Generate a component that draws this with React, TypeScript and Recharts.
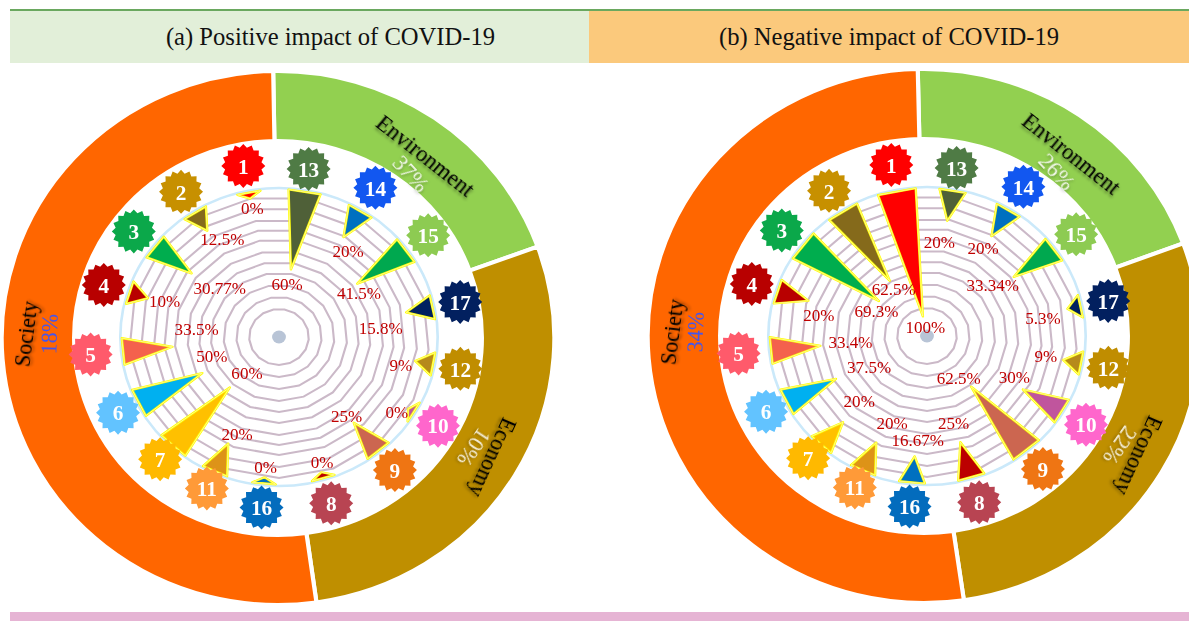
import {
  Pie,
  PieChart,
  PolarAngleAxis,
  PolarGrid,
  PolarRadiusAxis,
  Radar,
  RadarChart,
} from "recharts";

const SERIF = "'Liberation Serif', serif";

// goals clockwise round the ring, starting just left of twelve o'clock
const GOALS = ["1", "13", "14", "15", "17", "12", "10", "9", "8", "16", "11", "7", "6", "5", "4", "3", "2"];
const POSITIVE = [0, 60, 20, 41.5, 15.8, 9, 0, 25, 0, 0, 20, 60, 50, 33.5, 10, 30.77, 12.5];
const NEGATIVE = [100, 20, 20, 33.34, 5.3, 9, 30, 62.5, 25, 16.67, 20, 20, 37.5, 33.4, 20, 69.3, 62.5];

const BADGE_COLORS = [
  "#FF0000", "#4F7B45", "#1257F0", "#8DCB52", "#02205F", "#C08D00", "#FF66CC", "#EF7513", "#B84452",
  "#036CBD", "#FF9A38", "#FFB900", "#62C3FF", "#FF5A6B", "#B80000", "#0BA84A", "#C79000",
];
const SPIKE_COLORS = [
  "#FF0000", "#4F6038", "#0070C0", "#00A84F", "#002060", "#B68A1C", "#C0559D", "#CC6650", "#BC0000",
  "#0070C0", "#DD9318", "#FFC000", "#00B0F0", "#F4614D", "#B80000", "#00AD4E", "#856A1B",
];

const DIMENSIONS = ["Environment", "Economy", "Society"];
const DIMENSION_SPANS = [71, 102, 187];
const POSITIVE_SHARES = ["37%", "10%", "18%"];
const NEGATIVE_SHARES = ["26%", "22%", "34%"];
const DIMENSION_COLORS = ["#92D050", "#BF8F00", "#FF6600"];
const SHARE_COLORS = ["#F2F8EA", "#F6EFD8", "#4455EE"];

// where the ring captions sit: clock angle, radius of name and of share, text rotation
const CAPTION_LAYOUT = [
  { angle: 38, nameR: 231, shareR: 208, nameRot: 39, shareRot: 48 },
  { angle: 120, nameR: 239, shareR: 218, nameRot: 114, shareRot: 124 },
  { angle: 271, nameR: 244, shareR: 221, nameRot: -83, shareRot: -88 },
];

// the badges and labels were placed by hand in the original, so they drift off the even spacing
const BADGE_NUDGE = [
  [-2, -2], [-4, 1], [0, -3], [3, 2], [5, 12], [-1, 16], [-5, 12], [-7.5, 6], [-14, 6],
  [-17.5, -1.5], [-6, -9], [4.5, -5], [3, -1], [-6, 1.5], [1, -5], [1, -2], [-1.5, 1],
];
const POSITIVE_LABEL_NUDGE = [
  [0, 0], [-2, 4], [13, 2], [23, -5], [4, 11], [3, 8], [3, 12], [4, 7], [4, 1],
  [0, 0], [3, 4], [5, -1], [-9, -8], [-6, -14], [-4, -3], [5, -2], [4, -7],
];
const NEGATIVE_LABEL_NUDGE = [
  [0, 0], [-6, 11], [0, 0], [3, -8], [1, 5], [0, 0], [9, -2], [2, 9], [-3, -7],
  [2, -4], [10, -6], [4, -8], [8, 1], [0, 0], [-10, 9], [-23, -4], [-7, -8],
];

const GRID_RADII = [28, 40, 52, 64, 75, 86, 98, 108, 118, 130, 141];

const SIZE = 600;
const MID = SIZE / 2;
const RING_STRETCH = 1.035;
const WHEEL_STRETCH = 1.065;
const BADGE_R = 172;
const BASE_R = 147;
const RAD = Math.PI / 180;
const NO_MARGIN = { top: 0, right: 0, bottom: 0, left: 0 };

// badge centre relative to the wheel centre, from the direction the angle scale gives
function badgeOffset(i: number, ux: number, uy: number) {
  return [ux * BADGE_R + BADGE_NUDGE[i][0] / WHEEL_STRETCH, uy * BADGE_R + BADGE_NUDGE[i][1]];
}

function Badge(props: any) {
  const i = GOALS.indexOf(String(props.payload.value));
  const dx = props.x - MID;
  const dy = props.y - MID;
  const len = Math.hypot(dx, dy);
  const [ox, oy] = badgeOffset(i, dx / len, dy / len);
  const bx = MID + ox;
  const by = MID + oy;
  const pts: string[] = [];
  for (let k = 0; k < 32; k++) {
    const r = k % 2 === 0 ? 22 : 18.5;
    const a = (k * 11.25 - 90) * RAD;
    pts.push(`${bx + (r * Math.cos(a)) / WHEEL_STRETCH},${by + r * Math.sin(a)}`);
  }
  return (
    <g>
      <polygon points={pts.join(" ")} fill={BADGE_COLORS[i]} />
      <text x={bx} y={by + 1} fill="#fff" fontFamily={SERIF} fontSize={20} fontWeight="bold" textAnchor="middle" dominantBaseline="central">
        {props.payload.value}
      </text>
    </g>
  );
}

function spikeShape(labelNudge: number[][]) {
  return (props: any) => {
    const points = props.points ?? [];
    return (
      <g>
        <circle cx={MID} cy={MID} r={6.5} fill="#B8C4D6" />
        {points.map((p: any, i: number) => {
          const value = p.payload.value;
          const r = p.radius;
          const sin = Math.sin((90 - p.angle) * RAD);
          const cos = Math.cos((90 - p.angle) * RAD);
          // the spike follows its badge, so it shares the badge's drift
          const [ox, oy] = badgeOffset(i, sin, -cos);
          const len = Math.hypot(ox, oy);
          const ux = ox / len;
          const uy = oy / len;
          const tx = MID + ux * r;
          const ty = MID + uy * r;
          const half = 11 + value * 0.07;
          const bx = MID + ux * BASE_R;
          const by = MID + uy * BASE_R;
          const tri = `${tx},${ty} ${bx - uy * half},${by + ux * half} ${bx + uy * half},${by - ux * half}`;
          const text = `${value}%`;
          const off = 9 + Math.abs(ux) * text.length * 3.9;
          return (
            <g key={GOALS[i]}>
              <polygon points={tri} fill={SPIKE_COLORS[i]} stroke="#FFFF00" strokeWidth={2.2} strokeLinejoin="round" />
              <polygon points={tri} fill="none" stroke="#FFF6C0" strokeWidth={0.7} />
              <text
                x={tx - ux * off + labelNudge[i][0] / WHEEL_STRETCH}
                y={ty - uy * off + labelNudge[i][1]}
                fill="#C00000"
                fontFamily={SERIF}
                fontSize={16}
                textAnchor="middle"
                dominantBaseline="central"
              >
                {text}
              </text>
            </g>
          );
        })}
      </g>
    );
  };
}

function caption(shares: string[]) {
  return (props: any) => {
    const i = props.index;
    const c = CAPTION_LAYOUT[i];
    const sin = Math.sin(c.angle * RAD);
    const cos = Math.cos(c.angle * RAD);
    const nx = MID + c.nameR * sin;
    const ny = MID - c.nameR * cos;
    const sx = MID + c.shareR * sin;
    const sy = MID - c.shareR * cos;
    return (
      <g fontFamily={SERIF} textAnchor="middle" dominantBaseline="central" fontSize={22}>
        <text
          x={nx}
          y={ny}
          fill="#000"
          transform={`rotate(${c.nameRot} ${nx} ${ny})`}
          style={{ filter: "drop-shadow(1px 2px 1.5px rgba(0,0,0,0.45))" }}
        >
          {DIMENSIONS[i]}
        </text>
        <text
          x={sx}
          y={sy}
          fill={SHARE_COLORS[i]}
          transform={`rotate(${c.shareRot} ${sx} ${sy})`}
          style={{ filter: i === 2 ? "none" : "drop-shadow(1px 1px 1.5px rgba(0,0,0,0.3))" }}
        >
          {shares[i]}
        </text>
      </g>
    );
  };
}

function Wheel({ x, y, ringX, ringY, start, values, shares, labelNudge }: any) {
  const wheelData = GOALS.map((goal, i) => ({ goal, value: values[i] }));
  const ringData = DIMENSIONS.map((name, i) => ({ name, span: DIMENSION_SPANS[i], fill: DIMENSION_COLORS[i] }));
  return (
    <>
      <div style={{ position: "absolute", left: ringX - MID, top: ringY - MID, transform: `scaleX(${RING_STRETCH})` }}>
        <PieChart width={SIZE} height={SIZE} margin={NO_MARGIN}>
          <Pie
            data={ringData}
            dataKey="span"
            cx={MID}
            cy={MID}
            innerRadius={197}
            outerRadius={267}
            startAngle={90 + start}
            endAngle={start - 270}
            stroke="#fff"
            strokeWidth={4}
            label={caption(shares)}
            labelLine={false}
            isAnimationActive={false}
          />
        </PieChart>
      </div>
      <div style={{ position: "absolute", left: x - MID, top: y - MID, transform: `scaleX(${WHEEL_STRETCH})` }}>
        <RadarChart width={SIZE} height={SIZE} margin={NO_MARGIN} cx={MID} cy={MID} innerRadius={20} outerRadius={141} startAngle={100.6} endAngle={-259.4} data={wheelData}>
          <PolarGrid gridType="circle" polarRadius={[149]} radialLines={false} stroke="#CBE9FA" strokeWidth={2.5} />
          <PolarGrid gridType="polygon" polarRadius={GRID_RADII} radialLines={false} stroke="#CBB9C8" strokeWidth={2} />
          <PolarRadiusAxis domain={[0, 100]} reversed tick={false} axisLine={false} />
          <PolarAngleAxis dataKey="goal" tick={Badge} axisLine={false} tickLine={false} />
          <Radar dataKey="value" shape={spikeShape(labelNudge)} isAnimationActive={false} />
        </RadarChart>
      </div>
    </>
  );
}

const titleStyle = {
  position: "absolute",
  top: 11,
  height: 52,
  lineHeight: "52px",
  textAlign: "center",
  boxSizing: "border-box",
  fontFamily: SERIF,
  fontSize: 24.6,
  color: "#111",
} as const;

export default function App() {
  return (
    <div style={{ position: "absolute", left: 0, top: 0, width: 1189, height: 621, overflow: "hidden", background: "#fff" }}>
      <div style={{ position: "absolute", left: 10, top: 9, width: 1179, height: 3, background: "#6AA85F" }} />
      <div style={{ ...titleStyle, left: 10, width: 579, paddingLeft: 62, background: "#E2EFD9" }}>(a) Positive impact of COVID-19</div>
      <div style={{ ...titleStyle, left: 589, width: 600, background: "#FBC97C" }}>(b) Negative impact of COVID-19</div>
      <Wheel x={279} y={337} ringX={278} ringY={338} start={1} values={POSITIVE} shares={POSITIVE_SHARES} labelNudge={POSITIVE_LABEL_NUDGE} />
      <Wheel x={927} y={336} ringX={924} ringY={336} start={1.3} values={NEGATIVE} shares={NEGATIVE_SHARES} labelNudge={NEGATIVE_LABEL_NUDGE} />
      <div style={{ position: "absolute", left: 10, top: 612, width: 1179, height: 9, background: "#E6B4D4" }} />
    </div>
  );
}
